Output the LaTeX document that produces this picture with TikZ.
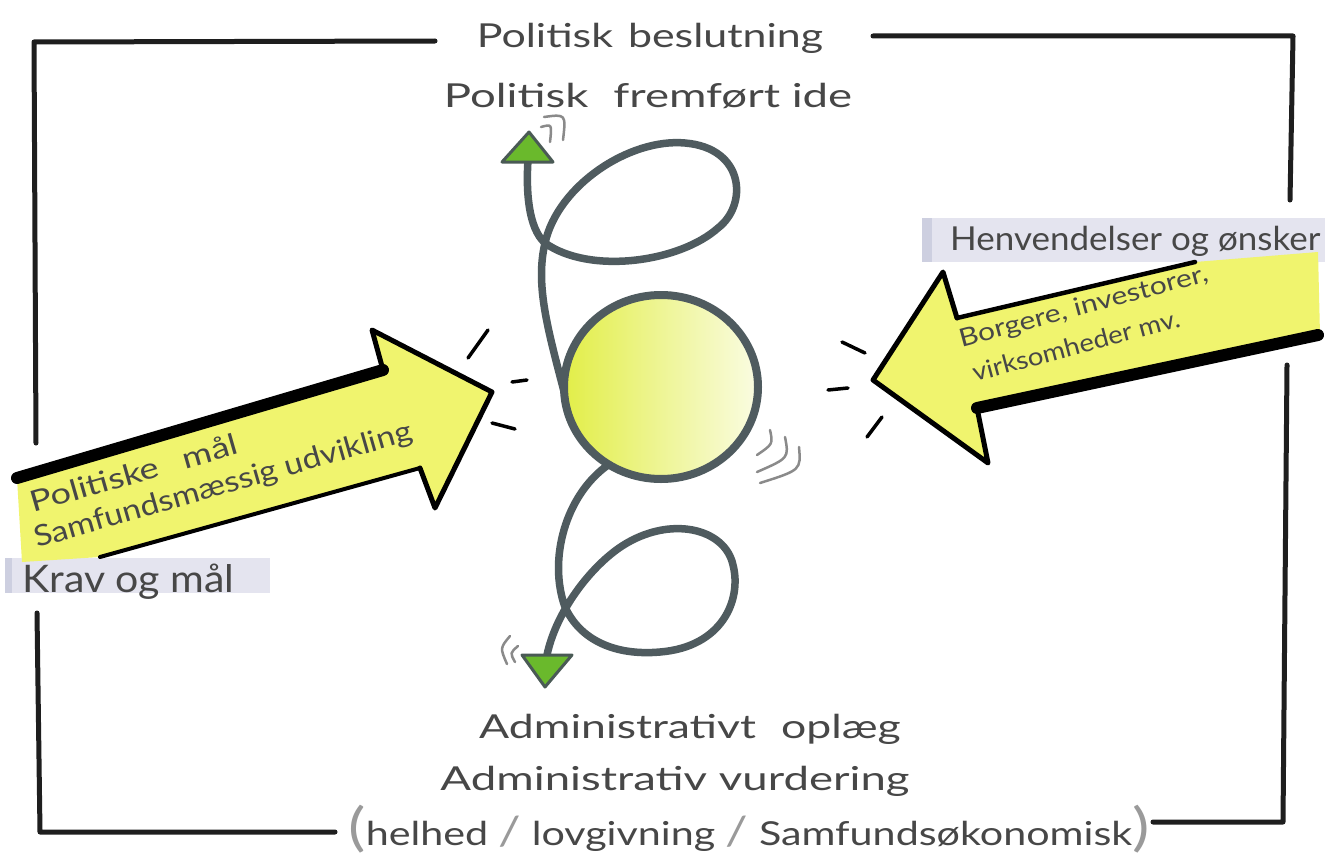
\documentclass[tikz,border=0pt]{standalone}
\usepackage{fontspec}
\setmainfont{Lato}
\usetikzlibrary{shapes.geometric}
\definecolor{ink}{HTML}{474747}
\definecolor{framec}{HTML}{1E1E1E}
\definecolor{loopc}{HTML}{4F5B5F}
\definecolor{hl}{HTML}{F0F46E}
\definecolor{bandc}{HTML}{E4E4EF}
\definecolor{bandedge}{HTML}{CDCFE0}
\definecolor{tric}{HTML}{6AB92C}
\definecolor{trib}{HTML}{4A5A55}
\definecolor{motion}{HTML}{8A8A8A}
\definecolor{coreL}{HTML}{E2EE48}
\definecolor{coreR}{HTML}{FAFCE2}
\definecolor{soft}{HTML}{9A9A9A}
\newcommand{\wx}[2]{\scalebox{#1}[1]{#2}}
\newcommand{\gap}[1]{\hspace{#1pt}}
\begin{document}
\begin{tikzpicture}[x=1pt,y=-1pt,
  lbl/.style={text=ink, inner sep=0pt, anchor=base},
  bigtxt/.style={font=\fontsize{33}{38}\selectfont},
  armtxt/.style={font=\fontsize{29}{35}\selectfont, text=ink, inner sep=0pt, anchor=base west, align=left},
  smalltxt/.style={font=\fontsize{25}{37}\selectfont, text=ink, inner sep=0pt, anchor=base west, align=left},
  frameline/.style={draw=framec, line width=5pt, line cap=round, line join=round},
  loopline/.style={draw=loopc, line width=7.5pt, line cap=round},
  edgethin/.style={draw=black, line width=5pt, line cap=round, line join=round},
  edgethick/.style={draw=black, line width=12pt, line cap=round},
  trishape/.style={fill=tric, draw=trib, line width=3pt, line join=round},
  motionarc/.style={draw=motion, line width=2.5pt, line cap=round},
  burst/.style={draw=black, line width=3.5pt, line cap=round}
]
\useasboundingbox (0,0) rectangle (1327,859);
\fill[white] (0,0) rectangle (1327,859);

% frame
\draw[frameline] (435,41) -- (34,42) -- (36,443);
\draw[frameline] (873,36) -- (1293,36) -- (1290,200);
\draw[frameline] (37,613) -- (40,832) -- (335,832);
\draw[frameline] (1287,365) -- (1283,822) -- (1153,822);

% label bands
\fill[bandc] (922,218) rectangle (1325,262);
\fill[bandedge] (922,218) rectangle (932,262);
\fill[bandc] (5,558) rectangle (270,593);
\fill[bandedge] (5,558) rectangle (12,593);

% left arrow
\fill[hl] (17,478) -- (383,370) -- (372,330) -- (492,392) -- (435,508) -- (420,468) -- (100,557) -- (22,562) -- cycle;
\draw[edgethick] (17,478) -- (383,370);
\draw[edgethin] (383,370) -- (372,330) -- (492,392) -- (435,508) -- (420,468);
\draw[draw=black, line width=4pt, line cap=round] (420,468) -- (100,557);

% right arrow
\fill[hl] (873,380) -- (943,272) -- (957,318) -- (1195,262) -- (1318,252) -- (1320,335) -- (977,408) -- (988,463) -- cycle;
\draw[draw=black, line width=4.5pt, line cap=round] (957,318) -- (1195,262);
\draw[edgethin] (957,318) -- (943,272) -- (873,380) -- (988,463) -- (977,408);
\draw[edgethick] (977,408) -- (1318,335);

% bursts
\draw[burst] (468,358) -- (488,330);
\draw[burst] (512,382) -- (527,380);
\draw[burst] (492,423) -- (515,429);
\draw[burst] (842,342) -- (865,353);
\draw[burst] (828,390) -- (848,388);
\draw[burst] (867,437) -- (882,417);

% core
\node[ellipse, minimum width=194pt, minimum height=184pt, inner sep=0pt, outer sep=0pt,
      left color=coreL, right color=coreR, draw=loopc, line width=8pt] (core) at (661,387) {};

\coordinate (tipU) at (528,160);
\coordinate (tipD) at (547,655);

% loops
\draw[loopline] (core.183) .. controls (548,330) and (535,285) .. (545,243)
  .. controls (558,185) and (630,138) .. (685,143)
  .. controls (745,148) and (748,205) .. (718,228)
  .. controls (680,262) and (590,275) .. (545,243)
  .. controls (528,228) and (526,190) .. (tipU);
\draw[loopline] (core.236) .. controls (565,495) and (548,560) .. (565,607)
  .. controls (580,640) and (615,656) .. (660,652)
  .. controls (722,647) and (742,600) .. (733,565)
  .. controls (725,528) and (670,515) .. (622,546)
  .. controls (590,567) and (556,612) .. (tipD);

% arrowheads
\draw[trishape] (529,132) -- (502,162) -- (553,162) -- cycle;
\draw[trishape] (522,655) -- (572,655) -- (545,687) -- cycle;

% motion arcs
\draw[motionarc] (770,430) .. controls (773,444) .. (757,455);
\draw[motionarc] (785,437) .. controls (789,458) .. (757,472);
\draw[motionarc] (799,447) .. controls (801,470) .. (760,483);
\draw[motionarc] (541,127) .. controls (552,124) .. (550,142);
\draw[motionarc] (544,117) .. controls (566,114) .. (563,140);
\draw[motionarc] (510,636) .. controls (500,648) .. (507,664);
\draw[motionarc] (518,646) .. controls (510,653) .. (515,662);

% texts
\node[lbl, bigtxt] (t1) at (650,48) {\wx{1.3}{Politisk}\gap{15}\wx{1.3}{beslutning}};
\node[lbl, bigtxt] (t2) at (648,107) {\wx{1.38}{Politisk}\gap{25}\wx{1.38}{fremført ide}};
\node[lbl, bigtxt] (b1) at (690,738) {\wx{1.35}{Administrativt}\gap{25}\wx{1.35}{oplæg}};
\node[lbl, bigtxt] (b2) at (675,790) {\wx{1.38}{Administrativ vurdering}};
\node[lbl, bigtxt] (b3) at (749,845) {\wx{1.25}{{\color{soft}\fontsize{52}{56}\selectfont(}helhed {\color{soft}\fontsize{40}{44}\selectfont/} lovgivning {\color{soft}\fontsize{40}{44}\selectfont/} Samfundsøkonomisk{\color{soft}\fontsize{52}{56}\selectfont)}}};
\node[lbl, bigtxt, anchor=base west] (hv) at (950,250) {\wx{1.06}{Henvendelser og ønsker}};
\node[lbl, font=\fontsize{38}{42}\selectfont, anchor=base west] (km) at (22,592) {\wx{1.08}{Krav og mål}};
\node[armtxt, rotate=16] (pm) at (37,548) {\gap{6}\wx{1.25}{Politiske}\gap{25}\wx{1.25}{mål}\\\wx{1.15}{Samfundsmæssig udvikling}};
\node[smalltxt, rotate=15] (bi) at (971,383) {\wx{1.2}{Borgere, investorer,}\\\gap{4}\wx{1.1}{virksomheder mv.}};
\end{tikzpicture}
\end{document}
